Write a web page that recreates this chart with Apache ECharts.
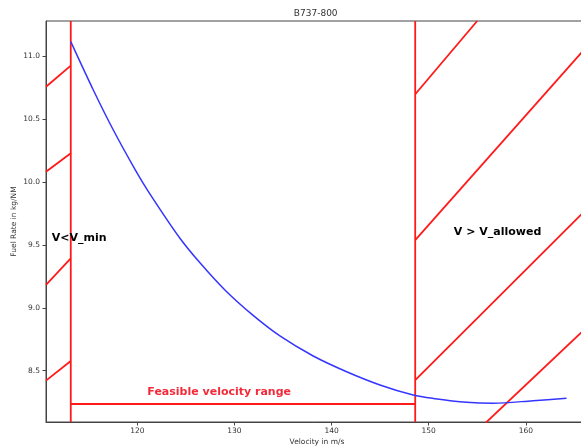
<!DOCTYPE html>
<html>
<head>
<meta charset="utf-8">
<script src="https://cdn.jsdelivr.net/npm/echarts@6/dist/echarts.min.js"></script>
<style>html,body{margin:0;padding:0;background:#fff}#c{width:581px;height:447px}</style>
</head>
<body>
<div id="c"></div>
<script>
// ---- data ----
const title = 'B737-800';
const xName = 'Velocity in m/s';
const yName = 'Fuel Rate in kg/NM';
const xTicks = [120, 130, 140, 150, 160];
const yTicks = [8.5, 9.0, 9.5, 10.0, 10.5, 11.0];
const xRange = [110.6, 166.4];
const yRange = [8.0925, 11.278];

// fuel-rate curve (velocity, fuel rate)
const curveV = [113.15, 115.47, 117.53, 119.76, 121.31, 124.39, 126.45, 129.02, 131.8, 134.68, 138.11, 141.55, 144.98, 148.40, 150.46, 153.90, 156.64, 160.75, 164.19];
const curveF = [11.114, 10.730, 10.412, 10.100, 9.903, 9.552, 9.357, 9.141, 8.947, 8.776, 8.617, 8.492, 8.387, 8.307, 8.280, 8.249, 8.241, 8.262, 8.281];

// limits
const vMin = 113.15;
const vAllowed = 148.61;
const feasibleLevel = 8.2355;

// hatch strokes [x1, y1, x2, y2]
const hatchLeft = [
  [110.6, 10.756, 113.15, 10.923],
  [110.6, 10.081, 113.15, 10.227],
  [110.6, 9.181, 113.15, 9.393],
  [110.6, 8.421, 113.15, 8.577]
];
const hatchRight = [
  [148.61, 10.696, 154.99, 11.278],
  [148.61, 9.538, 166.4, 11.085],
  [148.61, 8.426, 166.4, 9.794],
  [155.88, 8.087, 166.4, 8.854]
];

// annotations [x, y, text, colour]
const notes = [
  [111.19, 9.554, 'V<V_min', '#000'],
  [152.59, 9.600, 'V > V_allowed', '#000'],
  [121.03, 8.333, 'Feasible velocity range', '#f22a3a']
];

// ---- chart ----
const RED = '#ff1a1a';
const series = [];
function seg(pts) {
  series.push({
    type: 'line', data: pts, symbol: 'none', clip: true, silent: true,
    lineStyle: { color: RED, width: 1.8 }, z: 3
  });
}
[...hatchLeft, ...hatchRight].forEach(h => seg([[h[0], h[1]], [h[2], h[3]]]));
seg([[vMin, yRange[0]], [vMin, yRange[1]]]);
seg([[vAllowed, yRange[0]], [vAllowed, yRange[1]]]);
seg([[vMin, feasibleLevel], [vAllowed, feasibleLevel]]);

series.push({
  type: 'line', smooth: 0.3, symbol: 'none', clip: true,
  data: curveV.map((v, i) => [v, curveF[i]]),
  lineStyle: { color: '#3535ff', width: 1.5 }, z: 4
});

series.push({
  type: 'scatter', symbolSize: 0, silent: true, z: 5,
  itemStyle: { opacity: 1 },
  data: notes.map(n => ({
    value: [n[0], n[1]],
    label: {
      show: true, formatter: n[2], position: 'right', distance: 0,
      fontFamily: 'DejaVu Sans', fontWeight: 'bold', fontSize: 11, color: n[3], opacity: 1
    }
  }))
});

const axisFont = { fontFamily: 'DejaVu Sans', fontSize: 7.5, color: '#333' };
const chart = echarts.init(document.getElementById('c'), null, { renderer: 'canvas' });
chart.setOption({
  animation: false,
  backgroundColor: '#fff',
  title: {
    text: title, left: 315.7, top: 9, textAlign: 'center', padding: 0,
    textStyle: { fontFamily: 'DejaVu Sans', fontSize: 9, fontWeight: 'normal', color: '#333' }
  },
  grid: { left: 46, top: 21, width: 542, height: 401, outerBoundsMode: 'none', containLabel: false,
          show: true, borderColor: '#444', borderWidth: 1 },
  xAxis: {
    type: 'value', min: xRange[0], max: xRange[1],
    name: xName, nameLocation: 'middle', nameGap: 16, nameMoveOverlap: false,
    nameTextStyle: axisFont,
    axisLine: { show: true, lineStyle: { color: '#444' } },
    axisTick: { show: true, length: 3.5, customValues: xTicks, lineStyle: { color: '#444' } },
    axisLabel: { ...axisFont, margin: 5, customValues: xTicks, formatter: v => String(v) },
    splitLine: { show: false }
  },
  yAxis: {
    type: 'value', min: yRange[0], max: yRange[1],
    name: yName, nameLocation: 'middle', nameGap: 27.5, nameMoveOverlap: false,
    nameTextStyle: axisFont,
    axisLine: { show: true, lineStyle: { color: '#444' } },
    axisTick: { show: true, length: 3.5, customValues: yTicks, lineStyle: { color: '#444' } },
    axisLabel: { ...axisFont, margin: 6, customValues: yTicks, formatter: v => v.toFixed(1) },
    splitLine: { show: false }
  },
  series: series
});
</script>
</body>
</html>
